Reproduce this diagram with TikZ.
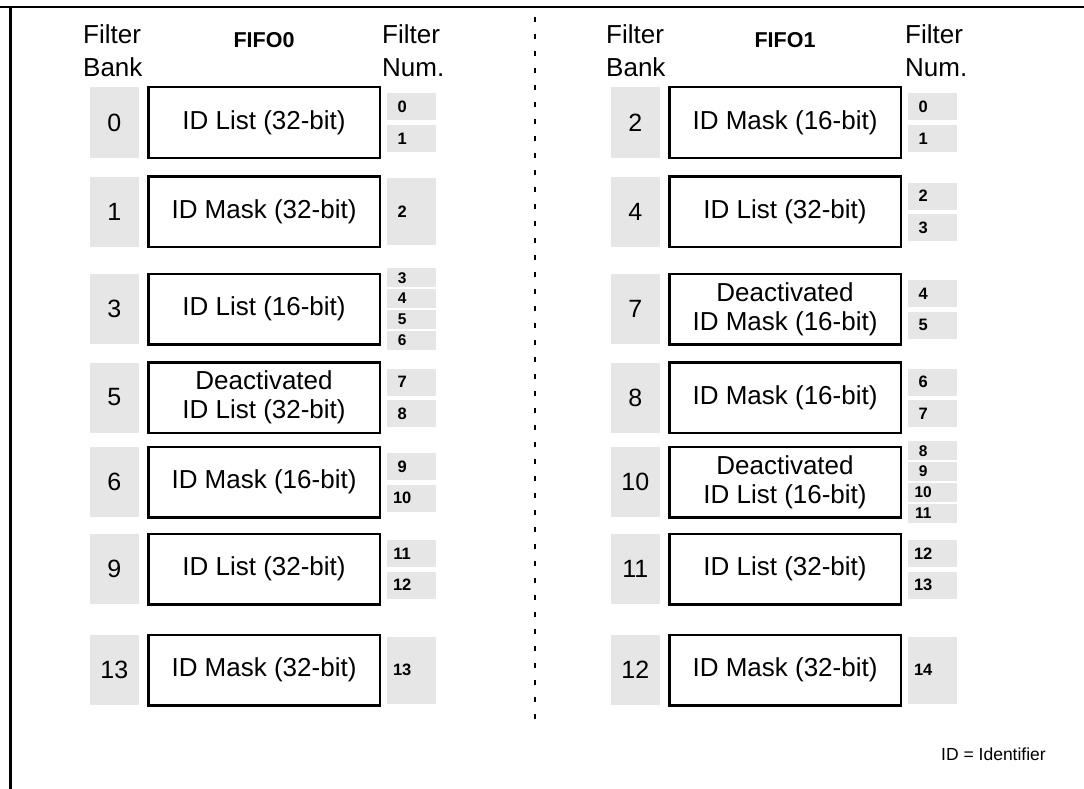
\documentclass[tikz,border=0pt]{standalone}
\usepackage{fontspec}
\setmainfont{Liberation Sans}
\usetikzlibrary{positioning}
\definecolor{bankgray}{RGB}{230,230,230}
\newcommand{\nb}[1]{\makebox[30pt]{#1}}

\begin{document}
\begin{tikzpicture} [
    x=1pt, y=-1pt,
    hdr/.style={anchor=north west, inner sep=0pt, align=left,
      font=\fontsize{26}{33}\selectfont},
    fifo/.style={inner sep=0pt, font=\bfseries\fontsize{21.5}{24}\selectfont},
    filt/.style={draw, line width=2.5pt, minimum width=231.5pt, minimum height=70.5pt,
      align=center, inner sep=0pt, font=\fontsize{26}{29}\selectfont},
    bank/.style={fill=bankgray, minimum width=49pt, minimum height=70pt,
      inner sep=0pt, font=\fontsize{25}{25}\selectfont},
    num/.style={fill=bankgray, text width=49pt, inner xsep=0pt, inner ysep=0pt,
      align=left, font=\bfseries\fontsize{16.5}{16.5}\selectfont},
    two/.style={num, minimum height=27pt},
    four/.style={num, minimum height=19pt, font=\bfseries\fontsize{15.5}{15.5}\selectfont},
    one/.style={num, minimum height=67pt}
  ]
  \useasboundingbox (0,0) rectangle (1084,789);
  % frame
  \draw[line width=2.5pt] (0,7) -- (1084,7);
  \draw[line width=3pt] (10,7) -- (10,789);
  \draw[line width=1.2pt, dash pattern=on 5pt off 12pt] (535,17) -- (535,725);

  % FIFO0
  \node[hdr] (lbank) at (83,24) {Filter\\Bank};
  \node[fifo] (lfifo) at (264,40.5) {FIFO0};
  \node[hdr] (lnum) at (382,24) {Filter\\Num.};

  \node[filt] (lm0) at (264,122.5) {ID List (32-bit)};
  \node[bank, left=8pt of lm0] (lb0) {0};
  \node[two, right=6pt of lm0, yshift=15.5pt] (ln0) {\nb{0}};
  \node[two, right=6pt of lm0, yshift=-16pt] (ln1) {\nb{1}};

  \node[filt] (lm1) at (264,211.5) {ID Mask (32-bit)};
  \node[bank, left=8pt of lm1] (lb1) {1};
  \node[one, right=6pt of lm1] (ln2) {\nb{2}};

  \node[filt] (lm2) at (264,309) {ID List (16-bit)};
  \node[bank, left=8pt of lm2] (lb2) {3};
  \node[four, right=6pt of lm2, yshift=31.25pt] (ln3) {\nb{3}};
  \node[four, right=6pt of lm2, yshift=10.5pt] (ln4) {\nb{4}};
  \node[four, right=6pt of lm2, yshift=-10.5pt] (ln5) {\nb{5}};
  \node[four, right=6pt of lm2, yshift=-31.25pt] (ln6) {\nb{6}};

  \node[filt] (lm3) at (264,397.5) {Deactivated\\ID List (32-bit)};
  \node[bank, left=8pt of lm3] (lb3) {5};
  \node[two, right=6pt of lm3, yshift=15.5pt] (ln7) {\nb{7}};
  \node[two, right=6pt of lm3, yshift=-16pt] (ln8) {\nb{8}};

  \node[filt] (lm4) at (264,482) {ID Mask (16-bit)};
  \node[bank, left=8pt of lm4] (lb4) {6};
  \node[two, right=6pt of lm4, yshift=15.5pt] (ln9) {\nb{9}};
  \node[two, right=6pt of lm4, yshift=-16pt] (ln10) {\nb{10}};

  \node[filt] (lm5) at (264,569) {ID List (32-bit)};
  \node[bank, left=8pt of lm5] (lb5) {9};
  \node[two, right=6pt of lm5, yshift=15.5pt] (ln11) {\nb{11}};
  \node[two, right=6pt of lm5, yshift=-16pt] (ln12) {\nb{12}};

  \node[filt] (lm6) at (264,670) {ID Mask (32-bit)};
  \node[bank, left=8pt of lm6] (lb6) {13};
  \node[one, right=6pt of lm6] (ln13) {\nb{13}};

  % FIFO1
  \node[hdr] (rbank) at (606,24) {Filter\\Bank};
  \node[fifo] (rfifo) at (785,40.5) {FIFO1};
  \node[hdr] (rnum) at (905,24) {Filter\\Num.};

  \node[filt] (rm0) at (785,122.5) {ID Mask (16-bit)};
  \node[bank, left=8pt of rm0] (rb0) {2};
  \node[two, right=6pt of rm0, yshift=15.5pt] (rn0) {\nb{0}};
  \node[two, right=6pt of rm0, yshift=-16pt] (rn1) {\nb{1}};

  \node[filt] (rm1) at (785,211.5) {ID List (32-bit)};
  \node[bank, left=8pt of rm1] (rb1) {4};
  \node[two, right=6pt of rm1, yshift=15.5pt] (rn2) {\nb{2}};
  \node[two, right=6pt of rm1, yshift=-16pt] (rn3) {\nb{3}};

  \node[filt] (rm2) at (785,309) {Deactivated\\ID Mask (16-bit)};
  \node[bank, left=8pt of rm2] (rb2) {7};
  \node[two, right=6pt of rm2, yshift=15.5pt] (rn4) {\nb{4}};
  \node[two, right=6pt of rm2, yshift=-16pt] (rn5) {\nb{5}};

  \node[filt] (rm3) at (785,397.5) {ID Mask (16-bit)};
  \node[bank, left=8pt of rm3] (rb3) {8};
  \node[two, right=6pt of rm3, yshift=15.5pt] (rn6) {\nb{6}};
  \node[two, right=6pt of rm3, yshift=-16pt] (rn7) {\nb{7}};

  \node[filt] (rm4) at (785,482) {Deactivated\\ID List (16-bit)};
  \node[bank, left=8pt of rm4] (rb4) {10};
  \node[four, right=6pt of rm4, yshift=31.25pt] (rn8) {\nb{8}};
  \node[four, right=6pt of rm4, yshift=10.5pt] (rn9) {\nb{9}};
  \node[four, right=6pt of rm4, yshift=-10.5pt] (rn10) {\nb{10}};
  \node[four, right=6pt of rm4, yshift=-31.25pt] (rn11) {\nb{11}};

  \node[filt] (rm5) at (785,569) {ID List (32-bit)};
  \node[bank, left=8pt of rm5] (rb5) {11};
  \node[two, right=6pt of rm5, yshift=15.5pt] (rn12) {\nb{12}};
  \node[two, right=6pt of rm5, yshift=-16pt] (rn13) {\nb{13}};

  \node[filt] (rm6) at (785,670) {ID Mask (32-bit)};
  \node[bank, left=8pt of rm6] (rb6) {12};
  \node[one, right=6pt of rm6] (rn14) {\nb{14}};

  \node[anchor=east, inner sep=0pt, font=\fontsize{17.5}{20}\selectfont] (note) at (1046,754) {ID = Identifier};
\end{tikzpicture}
\end{document}
